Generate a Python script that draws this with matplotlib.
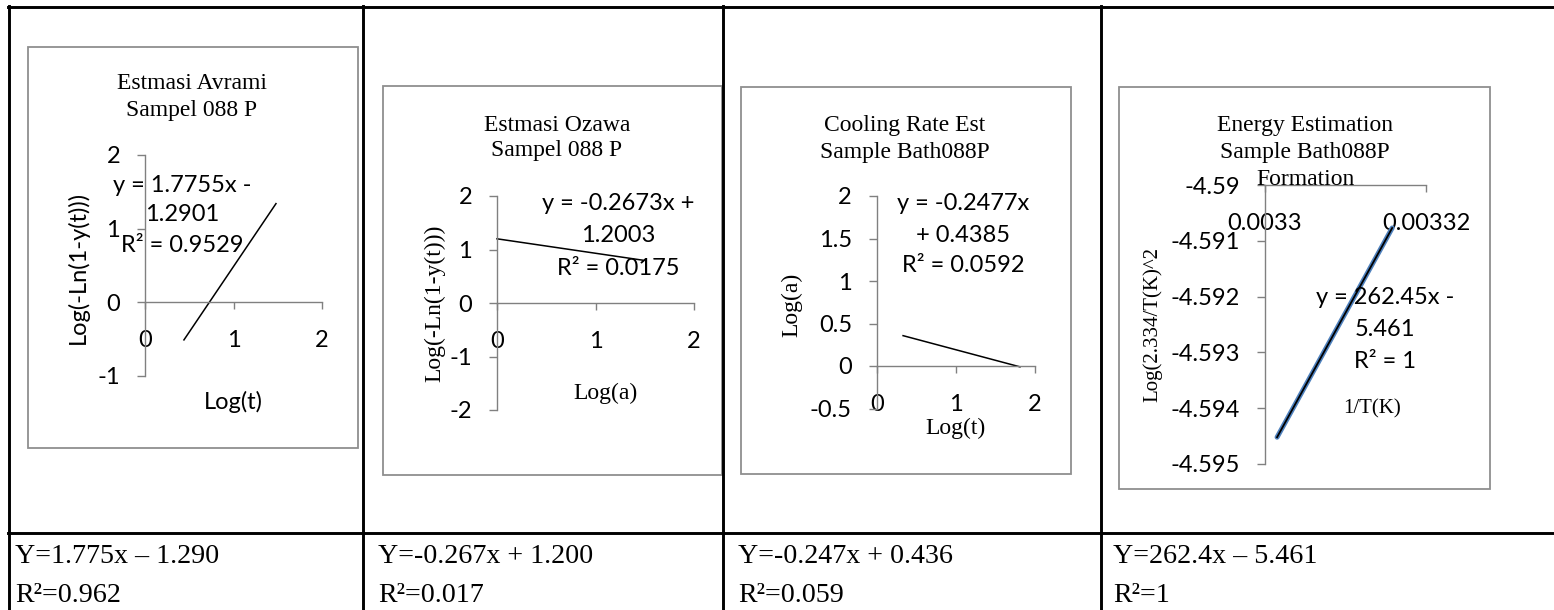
import matplotlib
matplotlib.use('Agg')
import matplotlib.pyplot as plt
from matplotlib.lines import Line2D
from matplotlib.patches import Rectangle

# ---------------- data ----------------
avrami_x = [0.44, 1.48]
avrami_y = [-0.51, 1.34]
ozawa_x = [0.0, 1.48]
ozawa_y = [1.20, 0.80]
cooling_x = [0.33, 1.81]
cooling_y = [0.357, -0.010]
energy_x = [0.0033015, 0.0033158]
energy_y = [-4.59452, -4.59077]

titles = ["Estmasi Avrami\nSampel 088 P",
          "Estmasi Ozawa\nSampel 088 P",
          "Cooling Rate Est\nSample Bath088P",
          "Energy Estimation\nSample Bath088P\nFormation"]
eq_lines = [["y = 1.7755x -", "1.2901", "R² = 0.9529"],
            ["y = -0.2673x +", "1.2003", "R² = 0.0175"],
            ["y = -0.2477x", "+ 0.4385", "R² = 0.0592"],
            ["y = 262.45x -", "5.461", "R² = 1"]]
xlabels = ["Log(t)", "Log(a)", "Log(t)", "1/T(K)"]
ylabels = ["Log(-Ln(1-y(t)))", "Log(-Ln(1-y(t)))", "Log(a)", "Log(2.334/T(K)^2"]

c1_xticks = [0, 1, 2]
c1_yticks = [-1, 0, 1, 2]
c2_xticks = [0, 1, 2]
c2_yticks = [-2, -1, 0, 1, 2]
c3_xticks = [0, 1, 2]
c3_yticks = [-0.5, 0, 0.5, 1, 1.5, 2]
c3_ylabels = ["-0.5", "0", "0.5", "1", "1.5", "2"]
c4_xticks = [0.0033, 0.00332]
c4_xticklabels = ["0.0033", "0.00332"]
c4_yticks = [-4.595, -4.594, -4.593, -4.592, -4.591, -4.59]
c4_yticklabels = ["-4.595", "-4.594", "-4.593", "-4.592", "-4.591", "-4.59"]

bottom_eq = ["Y=1.775x – 1.290", "Y=-0.267x + 1.200", "Y=-0.247x + 0.436", "Y=262.4x – 5.461"]
bottom_r2 = ["R²=0.962", "R²=0.017", "R²=0.059", "R²=1"]

# ---------------- layout ----------------
W, H = 1554, 610
fig = plt.figure(figsize=(W / 100, H / 100), dpi=100)
fig.patch.set_facecolor('white')

SANS = ['Lato', 'DejaVu Sans']
SERIF = ['Liberation Serif', 'DejaVu Serif']
AXC = '#808080'
BOXC = '#8f8f8f'


def fx(x):
    return x / W


def fy(y):
    return 1 - y / H


def ftext(x, y, s, **kw):
    return fig.text(fx(x), fy(y), s, **kw)


def add_ax(l, t, r, b):
    return fig.add_axes([fx(l), fy(b), (r - l) / W, (b - t) / H])


def style_ax(ax, xlim, ylim, xcross, xt, xtl, yt, ytl):
    ax.set_xlim(*xlim)
    ax.set_ylim(*ylim)
    ax.patch.set_visible(False)
    for s in ['top', 'right']:
        ax.spines[s].set_visible(False)
    ax.spines['bottom'].set_position(('data', xcross))
    for s in ['left', 'bottom']:
        ax.spines[s].set_color(AXC)
        ax.spines[s].set_linewidth(1.0)
    ax.set_xticks(xt)
    ax.set_xticklabels(xtl, family=SANS, fontsize=17)
    ax.set_yticks(yt)
    ax.set_yticklabels(ytl, family=SANS, fontsize=17)
    ax.tick_params(axis='x', direction='out', length=5, width=1.0, color=AXC, pad=15)
    ax.tick_params(axis='y', direction='out', length=6, width=1.0, color=AXC, pad=12)


# chart boxes
boxes = [(28, 47, 358, 448), (383, 86, 722, 475), (741, 87, 1071, 474), (1119, 87, 1490, 489)]
for (l, t, r, b) in boxes:
    fig.add_artist(Rectangle((fx(l), fy(b)), (r - l) / W, (b - t) / H, transform=fig.transFigure,
                             facecolor='none', edgecolor=BOXC, linewidth=1.3, zorder=0))

# ---- chart 1 ----
ax1 = add_ax(145, 155, 322, 376)
style_ax(ax1, (0, 2), (-1, 2), 0, c1_xticks, [str(v) for v in c1_xticks],
         c1_yticks, [str(v) for v in c1_yticks])
ax1.plot(avrami_x, avrami_y, color='black', lw=1.1)

# ---- chart 2 ----
ax2 = add_ax(497, 196, 694, 410)
style_ax(ax2, (0, 2), (-2, 2), 0, c2_xticks, [str(v) for v in c2_xticks],
         c2_yticks, [str(v) for v in c2_yticks])
ax2.plot(ozawa_x, ozawa_y, color='black', lw=1.1, clip_on=False)

# ---- chart 3 ----
ax3 = add_ax(877, 196, 1035, 408.5)
style_ax(ax3, (0, 2), (-0.5, 2), 0, c3_xticks, [str(v) for v in c3_xticks],
         c3_yticks, c3_ylabels)
ax3.plot(cooling_x, cooling_y, color='black', lw=1.1, clip_on=False)

# ---- chart 4 ----
ax4 = add_ax(1265, 185, 1426, 464)
style_ax(ax4, (0.0033, 0.00332), (-4.595, -4.59), -4.59, c4_xticks, c4_xticklabels,
         c4_yticks, c4_yticklabels)
ax4.plot(energy_x, energy_y, color='#4F81BD', lw=3.6, solid_capstyle='round', clip_on=False)
ax4.plot(energy_x, energy_y, color='black', lw=1.3, clip_on=False)

# ---- titles ----
title_pos = [(192, 89, 27), (557, 131, 25), (905, 131, 27), (1305, 131, 27)]
for (x, yb, dy), t in zip(title_pos, titles):
    for i, line in enumerate(t.split('\n')):
        ftext(x, yb + i * dy, line, ha='center', va='baseline', family=SERIF, fontsize=17)

# ---- equation labels ----
eq_pos = [(182, [191.5, 221.5, 251.5]), (618, [210.5, 241.5, 275.5]),
          (963, [210.5, 241.5, 271.5]), (1385, [303.5, 335.5, 368.5])]
for (x, ys), lines in zip(eq_pos, eq_lines):
    for yb, line in zip(ys, lines):
        ftext(x, yb, line, ha='center', va='baseline', family=SANS, fontsize=17)

# ---- axis titles ----
ftext(233, 402, xlabels[0], ha='center', va='center', family=SANS, fontsize=17)
ftext(78, 267, ylabels[0], ha='center', va='center', rotation=90, family=SANS, fontsize=17)
ftext(605, 393, xlabels[1], ha='center', va='center', family=SERIF, fontsize=17)
ftext(435, 303, ylabels[1], ha='center', va='center', rotation=90, family=SERIF, fontsize=17)
ftext(955, 428, xlabels[2], ha='center', va='center', family=SERIF, fontsize=17)
ftext(792, 305, ylabels[2], ha='center', va='center', rotation=90, family=SERIF, fontsize=17)
ftext(1372, 409, xlabels[3], ha='center', va='center', family=SERIF, fontsize=15)
ftext(1153, 325, ylabels[3], ha='center', va='center', rotation=90, family=SERIF, fontsize=15)

# ---- bottom row text ----
col_x = [15, 378, 738, 1113]
for x, e, r in zip(col_x, bottom_eq, bottom_r2):
    ftext(x, 563, e, ha='left', va='baseline', family=SERIF, fontsize=20.2)
    ftext(x, 602, r, ha='left', va='baseline', family=SERIF, fontsize=20.2)

# ---- table lines ----
def hline(y, x0, x1):
    fig.add_artist(Line2D([fx(x0), fx(x1)], [fy(y), fy(y)], transform=fig.transFigure,
                          color='black', lw=2.1, zorder=5))


def vline(x, y0, y1):
    fig.add_artist(Line2D([fx(x), fx(x)], [fy(y0), fy(y1)], transform=fig.transFigure,
                          color='black', lw=2.1, zorder=5))


hline(7, 8, W)
hline(533, 8, W)
for x in [9, 363, 723, 1101]:
    vline(x, 6, H)

fig.savefig('out.png', dpi=100)
